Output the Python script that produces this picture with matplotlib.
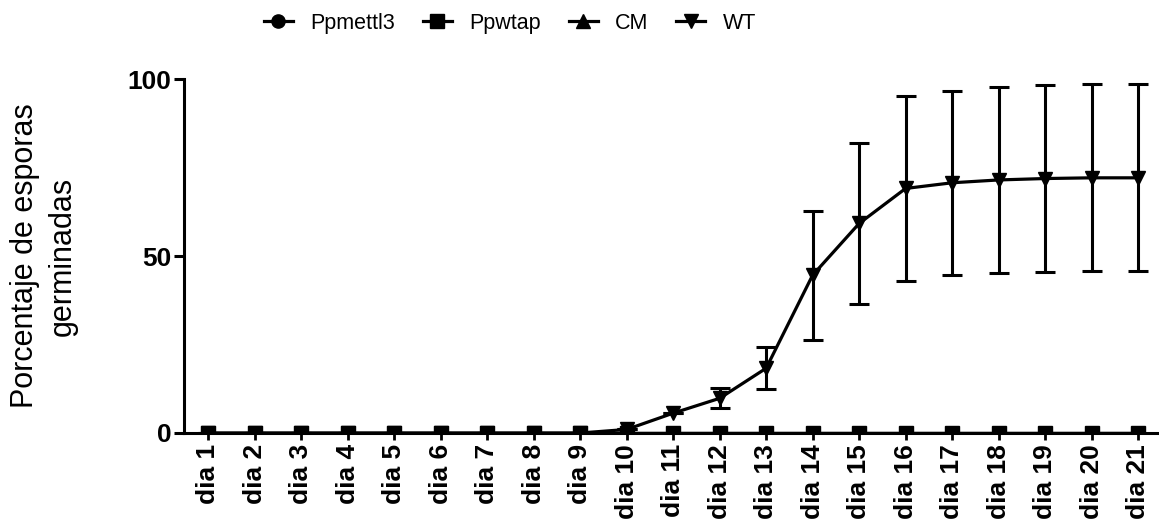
import matplotlib
matplotlib.use("Agg")
import matplotlib.pyplot as plt
from matplotlib.lines import Line2D
import numpy as np

days = [f"dia {i}" for i in range(1, 22)]
x = np.arange(1, 22)

wt_mean = [0, 0, 0, 0, 0, 0, 0, 0, 0, 1.0, 5.6, 9.8, 18.3, 44.6, 59.2, 69.1, 70.7, 71.5, 71.9, 72.1, 72.1]
wt_err = [0, 0, 0, 0, 0, 0, 0, 0, 0, 0, 0, 2.8, 6.0, 18.2, 22.7, 26.2, 26.0, 26.3, 26.5, 26.4, 26.4]
ppmettl3 = [0] * 21
ppwtap = [0] * 21
cm = [0] * 21

plt.rcParams['font.family'] = ['Liberation Sans', 'DejaVu Sans']

fig = plt.figure(figsize=(11.59, 5.22), dpi=100)
ax = fig.add_axes([0.1588, 0.1705, 0.8412, 0.678])

lw = 2.3
ms = 9.5
ax.errorbar(x, wt_mean, yerr=wt_err, color='black', lw=lw, marker='v', markersize=ms,
            capsize=7, capthick=2.2, elinewidth=2.2, zorder=3)
ax.plot(x, cm, color='black', lw=lw, marker='^', markersize=ms, zorder=4)
ax.plot(x, ppmettl3, color='black', lw=lw, marker='o', markersize=ms, zorder=5)
ax.plot(x, ppwtap, color='black', lw=lw, marker='s', markersize=ms, zorder=6)

ax.set_xlim(0.48, 21.45)
ax.set_ylim(0, 100)
ax.set_yticks([0, 50, 100])
ax.set_xticks(x)
ax.set_xticklabels(days, rotation=90, fontsize=19, fontweight='bold')
for lab in ax.get_yticklabels():
    lab.set_fontsize(19)
    lab.set_fontweight('bold')

for s in ['top', 'right']:
    ax.spines[s].set_visible(False)
for s in ['left', 'bottom']:
    ax.spines[s].set_linewidth(2.2)
ax.tick_params(axis='y', length=7, width=2.2, direction='out', pad=2)
ax.tick_params(axis='x', length=5, width=2.0, direction='out', pad=3)

fig.text(44 / 1159, 0.5096, "Porcentaje de esporas\ngerminadas", fontsize=22, rotation=90,
         ha='center', va='center', linespacing=1.35)

markers = {'Ppmettl3': 'o', 'Ppwtap': 's', 'CM': '^', 'WT': 'v'}
order = ['Ppmettl3', 'Ppwtap', 'CM', 'WT']
handles = [Line2D([], [], color='black', lw=lw, marker=markers[k], markersize=ms) for k in order]
fig.legend(handles, order, loc='center', bbox_to_anchor=(0.44, 0.955),
           ncol=4, frameon=False, fontsize=15.5, handlelength=1.35, columnspacing=1.3,
           handletextpad=0.8)

fig.savefig("out.png", dpi=100)
